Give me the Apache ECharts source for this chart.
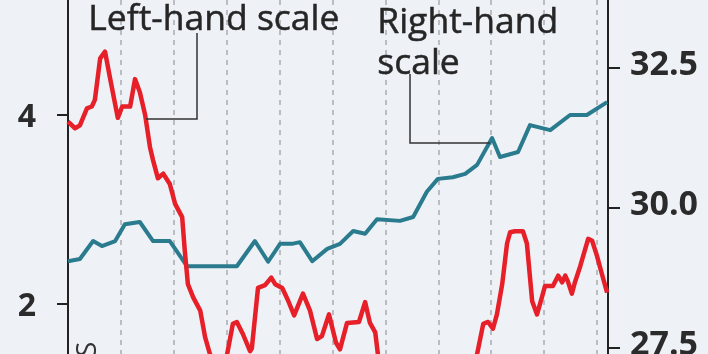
<!DOCTYPE html>
<html>
<head>
<meta charset="utf-8">
<script src="https://cdn.jsdelivr.net/npm/echarts@6/dist/echarts.min.js"></script>
<style>
html,body{margin:0;padding:0;background:#eef1f6;}
#c{width:708px;height:354px;}
</style>
</head>
<body>
<div id="c"></div>
<script>
// Month index (0 = start of visible range)
var redX = [0, 1.6, 2.7, 4.3, 5.4, 6.1, 7.3, 8.4, 9.5, 11.3, 12.3, 14.1, 15.2, 16.3, 17.5, 18.6, 19.3, 20.4, 21.6, 23.1, 24.3, 25.9, 26.5, 27.2, 28.4, 30.0, 31.1, 32.2, 33.8, 35.6, 36.1, 37.4, 38.3, 39.7, 41.3, 41.7, 43.1, 44.7, 46.1, 47.0, 48.6, 49.9, 51.3, 53.3, 54.9, 56.5, 57.6, 59.2, 60.8, 61.7, 63.3, 66.0, 67.4, 68.5, 69.7, 70.3, 71.9, 79.9, 88.9, 91.7, 92.8, 94.2, 95.3, 96.4, 97.3, 98.5, 99.6, 100.3, 101.4, 103.2, 104.1, 105.3, 106.4, 107.5, 108.2, 110.0, 111.2, 112.1, 112.8, 113.4, 114.3, 115.0, 116.2, 118.0, 118.9, 120.0, 121.1, 122.3];
var redY = [3.93, 3.86, 3.89, 4.07, 4.09, 4.16, 4.60, 4.67, 4.40, 3.97, 4.09, 4.09, 4.38, 4.24, 4.00, 3.66, 3.52, 3.33, 3.38, 3.27, 3.06, 2.92, 2.56, 2.21, 2.07, 1.93, 1.65, 1.47, 1.35, 1.40, 1.47, 1.79, 1.81, 1.68, 1.50, 1.53, 2.17, 2.20, 2.28, 2.21, 2.17, 2.04, 1.88, 2.11, 1.93, 1.63, 1.66, 1.89, 1.59, 1.52, 1.80, 1.81, 2.02, 1.80, 1.70, 1.47, 1.20, 1.00, 1.10, 1.35, 1.47, 1.79, 1.81, 1.74, 1.89, 2.21, 2.64, 2.76, 2.77, 2.77, 2.64, 2.03, 1.89, 2.07, 2.19, 2.19, 2.30, 2.23, 2.30, 2.24, 2.11, 2.23, 2.40, 2.69, 2.67, 2.51, 2.32, 2.12];
var tealX = [0, 2.7, 5.7, 7.7, 10.7, 12.9, 16.3, 19.3, 23.1, 27.0, 37.4, 38.3, 42.4, 45.4, 48.1, 50.8, 52.6, 55.4, 58.8, 61.7, 64.7, 67.4, 70.1, 75.3, 78.3, 81.4, 83.9, 87.3, 90.1, 92.8, 96.2, 98.0, 102.1, 104.8, 109.4, 113.9, 117.7, 122.3];
var tealY = [29.05, 29.09, 29.41, 29.32, 29.41, 29.71, 29.75, 29.41, 29.41, 28.96, 28.96, 28.96, 29.41, 29.04, 29.36, 29.36, 29.39, 29.05, 29.27, 29.36, 29.59, 29.54, 29.80, 29.77, 29.84, 30.29, 30.52, 30.55, 30.61, 30.77, 31.25, 30.91, 31.00, 31.48, 31.39, 31.66, 31.66, 31.89];
var leftTicks = [2, 4];
var rightTicks = [27.5, 30.0, 32.5];

function pairs(xs, ys){ return xs.map(function(x,i){ return [x, ys[i]]; }); }

var chart = echarts.init(document.getElementById('c'), null, {renderer:'canvas'});
var FONT = '"Open Sans", "Noto Sans", sans-serif';
chart.setOption({
  backgroundColor: '#eef1f6',
  animation: false,
  grid: {left: 68, right: 100, top: 0, bottom: 0, containLabel: false, outerBoundsMode: 'none'},
  xAxis: {
    type: 'value', min: 0, max: 122.5, interval: 12,
    axisLine: {show: false}, axisTick: {show: false}, axisLabel: {show: false},
    splitLine: {show: true, lineStyle: {color: '#a9adb3', width: 1.5, type: [5, 5]}}
  },
  yAxis: [
    {
      type: 'value', position: 'left', min: 1.471, max: 5.217,
      splitLine: {show: false},
      axisLine: {show: true, lineStyle: {color: '#222', width: 2}},
      axisTick: {show: true, length: 11, customValues: leftTicks, lineStyle: {color: '#222', width: 2}},
      axisLabel: {show: true, customValues: leftTicks, margin: 32, verticalAlign: 'top', lineHeight: 5, color: '#2b2b2b', fontSize: 32, fontWeight: 'bold', fontFamily: FONT}
    },
    {
      type: 'value', position: 'right', min: 27.393, max: 33.714,
      splitLine: {show: false},
      axisLine: {show: true, lineStyle: {color: '#222', width: 2}},
      axisTick: {show: true, length: 12, customValues: rightTicks, lineStyle: {color: '#222', width: 2}},
      axisLabel: {show: true, customValues: rightTicks, margin: 22, verticalAlign: 'bottom', lineHeight: 5, color: '#2b2b2b', fontSize: 34, fontWeight: 'bold', fontFamily: FONT,
        formatter: function(v){ return Number(v).toFixed(1); }}
    }
  ],
  series: [
    {type: 'line', yAxisIndex: 1, data: pairs(tealX, tealY), showSymbol: false, symbol: 'none',
      lineStyle: {color: '#2a7b8e', width: 4, join: 'round'}, z: 3},
    {type: 'line', yAxisIndex: 0, data: pairs(redX, redY), showSymbol: false, symbol: 'none',
      lineStyle: {color: '#e61f28', width: 4.5, join: 'round'}, z: 4}
  ],
  graphic: [
    {type: 'polyline', shape: {points: [[146,119],[197,119],[197,33]]}, style: {stroke: '#333', lineWidth: 1.5, fill: null}, z: 10},
    {type: 'polyline', shape: {points: [[490,143],[410,143],[410,74]]}, style: {stroke: '#333', lineWidth: 1.5, fill: null}, z: 10},
    {type: 'text', left: 88, top: 2, style: {text: 'Left-hand scale', font: '35.5px ' + FONT, fill: '#262626', stroke: '#262626', lineWidth: 0.5}, z: 10},
    {type: 'text', left: 377, top: 2, style: {text: 'Right-hand\nscale', font: '35.5px ' + FONT, fill: '#262626', stroke: '#262626', lineWidth: 0.5, lineHeight: 41}, z: 10},
    {type: 'text', x: 74, y: 357, rotation: Math.PI/2, style: {text: 'S', font: '28px ' + FONT, fill: '#333'}, z: 10}
  ]
});
</script>
</body>
</html>
